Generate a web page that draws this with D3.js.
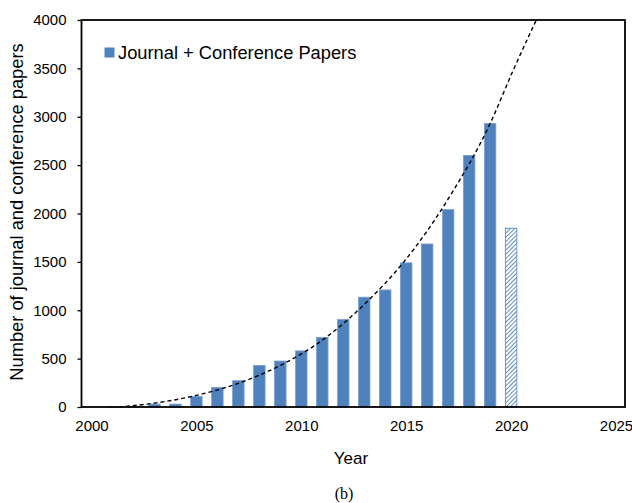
<!DOCTYPE html>
<html>
<head>
<meta charset="utf-8">
<script src="https://cdn.jsdelivr.net/npm/d3@7"></script>
<style>
  body { margin: 0; background: #fff; }
  text { font-family: "Liberation Sans", Arial, sans-serif; fill: #000; }
</style>
</head>
<body>
<div id="chart"></div>
<script>
// Papers per year (2020 is partial, drawn hatched)
const years = [2001, 2002, 2003, 2004, 2005, 2006, 2007, 2008, 2009, 2010,
               2011, 2012, 2013, 2014, 2015, 2016, 2017, 2018, 2019, 2020];
const papers = [6, 2, 30, 30, 108, 203, 272, 430, 475, 580,
                720, 905, 1135, 1210, 1490, 1685, 2040, 2600, 2930, 1848];
const partialYear = 2020;

// Trend line, points
const trendYears = [2001.3, 2003, 2005, 2007, 2009, 2011, 2013, 2015, 2017, 2019, 2020.1, 2021.2];
const trendValues = [0, 40, 120, 245, 430, 690, 1060, 1530, 2150, 2930, 3480, 4000];

const yTicks = [0, 500, 1000, 1500, 2000, 2500, 3000, 3500, 4000];
const xTicks = [2000, 2005, 2010, 2015, 2020, 2025];

const width = 632, height = 503;
const frame = { left: 81.5, right: 625, top: 20, bottom: 407 };

const svg = d3.select("#chart").append("svg")
    .attr("width", width)
    .attr("height", height);

// Hatch pattern for the partial year
const defs = svg.append("defs");
defs.append("pattern")
    .attr("id", "hatch")
    .attr("patternUnits", "userSpaceOnUse")
    .attr("width", 3)
    .attr("height", 3)
    .attr("patternTransform", "rotate(45)")
    .append("line")
    .attr("x1", 0).attr("y1", 0)
    .attr("x2", 0).attr("y2", 3)
    .attr("stroke", "#4f81bd")
    .attr("stroke-width", 1.8);

const x = d3.scaleLinear().domain([2000, 2025]).range([91.5, 616]);
const y = d3.scaleLinear().domain([0, 4000]).range([frame.bottom, frame.top]);

const barW = 11.5;

// Bars
svg.append("g").selectAll("rect")
    .data(years.map((yr, i) => ({ year: yr, value: papers[i] })))
    .enter().append("rect")
    .attr("x", d => x(d.year) - barW / 2)
    .attr("y", d => y(d.value))
    .attr("width", barW)
    .attr("height", d => y(0) - y(d.value))
    .attr("fill", d => d.year === partialYear ? "url(#hatch)" : "#4f81bd")
    .attr("stroke", d => d.year === partialYear ? "#4f81bd" : "#7a9fd0")
    .attr("stroke-width", 0.8);

// Dashed trend line
const line = d3.line()
    .x(d => x(d[0]))
    .y(d => y(d[1]))
    .curve(d3.curveMonotoneX);

svg.append("path")
    .datum(trendYears.map((t, i) => [t, trendValues[i]]))
    .attr("d", line)
    .attr("fill", "none")
    .attr("stroke", "#000")
    .attr("stroke-width", 1.4)
    .attr("stroke-dasharray", "4,3");

// Y axis
const yAxis = svg.append("g")
    .attr("transform", `translate(${frame.left},0)`)
    .call(d3.axisLeft(y).tickValues(yTicks).tickSize(4).tickPadding(11).tickFormat(d3.format("d")));
yAxis.select(".domain").remove();
yAxis.selectAll("line").attr("stroke", "#000").attr("stroke-width", 1.3);
yAxis.selectAll("text").style("font-size", "15px").style("font-family", "Liberation Sans, Arial, sans-serif");

// X axis labels
const xAxis = svg.append("g")
    .attr("transform", `translate(0,${frame.bottom})`)
    .call(d3.axisBottom(x).tickValues(xTicks).tickSize(0).tickPadding(13).tickFormat(d3.format("d")));
xAxis.select(".domain").remove();
xAxis.selectAll("text").style("font-size", "15px").style("font-family", "Liberation Sans, Arial, sans-serif");

// Frame
svg.append("rect")
    .attr("x", frame.left)
    .attr("y", frame.top)
    .attr("width", frame.right - frame.left)
    .attr("height", frame.bottom - frame.top)
    .attr("fill", "none")
    .attr("stroke", "#000")
    .attr("stroke-width", 1.8);

// Axis titles
svg.append("text")
    .attr("x", 351)
    .attr("y", 464)
    .attr("text-anchor", "middle")
    .style("font-size", "17px")
    .text("Year");

svg.append("text")
    .attr("transform", `translate(23,${(43 + 381) / 2}) rotate(-90)`)
    .attr("text-anchor", "middle")
    .style("font-size", "18.3px")
    .text("Number of journal and conference papers");

// Legend
svg.append("rect")
    .attr("x", 104.5)
    .attr("y", 47.5)
    .attr("width", 10)
    .attr("height", 10)
    .attr("fill", "#4f81bd");

svg.append("text")
    .attr("x", 118)
    .attr("y", 58.5)
    .style("font-size", "18.3px")
    .text("Journal + Conference Papers");

// Caption
svg.append("text")
    .attr("x", 344)
    .attr("y", 499)
    .attr("text-anchor", "middle")
    .style("font-family", "Liberation Serif, Times New Roman, serif")
    .style("font-size", "16px")
    .text("(b)");
</script>
</body>
</html>
